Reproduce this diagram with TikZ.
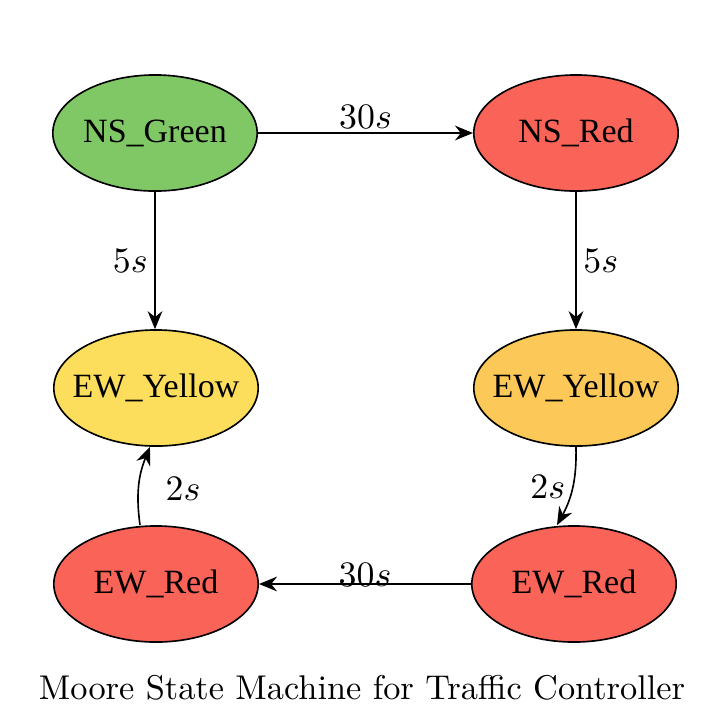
\documentclass[tikz,border=0pt]{standalone}
\usepackage{fontspec}
\newfontfamily\nodefont{Liberation Serif}
\usetikzlibrary{shapes.geometric,arrows.meta}
\definecolor{sgreen}{RGB}{128,200,102}
\definecolor{sred}{RGB}{250,100,88}
\definecolor{syellow}{RGB}{252,222,92}
\definecolor{sorange}{RGB}{252,200,88}
\begin{document}
\begin{tikzpicture}[x=0.3058pt,y=-0.3058pt,
  font=\fontsize{10.5}{12.5}\selectfont,
  state/.style={ellipse,draw=black,line width=0.5pt,minimum width=62.5pt,minimum height=35.5pt,inner sep=0pt,font=\nodefont\fontsize{10.4}{12.5}\selectfont},
  edge/.style={-{Stealth[length=5.5pt,width=4.5pt]},line width=0.5pt},
  lbl/.style={inner sep=1pt,font=\fontsize{11}{13}\selectfont}]
\useasboundingbox[fill=white] (0,0) rectangle (712,716);
\node[state,fill=sgreen] (nsg) at (155,133) {\makebox[0pt]{NS\_Green}};
\node[state,fill=sred] (nsr) at (576,133) {\makebox[0pt]{NS\_Red}};
\node[state,fill=syellow] (ewyl) at (156,388) {\makebox[0pt]{EW\_Yellow}};
\node[state,fill=sorange] (ewyr) at (576,388) {\makebox[0pt]{EW\_Yellow}};
\node[state,fill=sred] (ewrl) at (156,584) {\makebox[0pt]{EW\_Red}};
\node[state,fill=sred] (ewrr) at (574,584) {\makebox[0pt]{EW\_Red}};
\node (cap) at (362,688) {Moore State Machine for Traffic Controller};
\draw[edge] (nsg.east) -- node[lbl,above] {$30s$} (nsr.west);
\draw[edge] (nsg.south) -- node[lbl,left=1pt] {$5s$} (nsg.south |- ewyl.north);
\draw[edge] (nsr.south) -- node[lbl,right=1pt] {$5s$} (nsr.south |- ewyr.north);
\draw[edge] (ewyr.south) to[bend left=15] node[lbl,left=1pt,pos=0.5] {$2s$} (ewrr.north -| 557,0);
\draw[edge] (ewrr.west) -- node[lbl,above,yshift=-2pt] {$30s$} (ewrl.east);
\draw[edge] (ewrl.north -| 140,0) to[bend left=15] node[lbl,right=7pt,pos=0.45] {$2s$} (ewyl.south -| 150,0);
\end{tikzpicture}
\end{document}
